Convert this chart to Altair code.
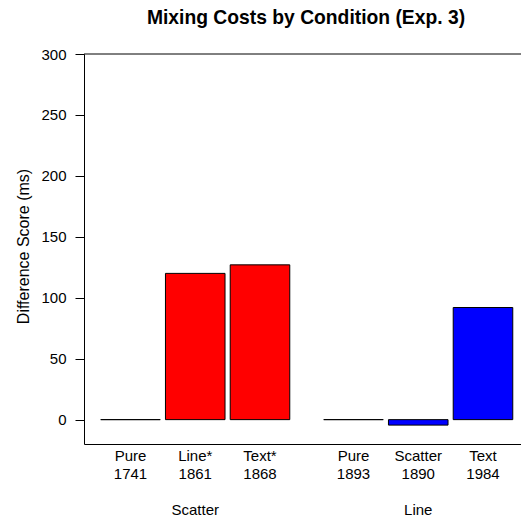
import altair as alt
import pandas as pd

# ---- data ----
groups = ["Scatter", "Scatter", "Scatter", "Line", "Line", "Line"]
conditions = ["Pure", "Line*", "Text*", "Pure", "Scatter", "Text"]
counts = ["1741", "1861", "1868", "1893", "1890", "1984"]
values = [0, 120, 127, 0, -4.5, 92]
group_order = ["Scatter", "Line"]
y_ticks = [0, 50, 100, 150, 200, 250, 300]

# ---- layout constants ----
GROUP_GAP = 0.444   # extra space between groups (in bar steps)
HALF = 0.46         # half bar width (in bar steps)
W, H = 437, 390
FONT = "Liberation Sans"

pos = [i + group_order.index(g) * GROUP_GAP for i, g in enumerate(groups)]
df = pd.DataFrame({
    "group": groups,
    "cond": conditions,
    "n": counts,
    "value": values,
    "pos": pos,
})
df["left"] = df["pos"] - HALF
df["right"] = df["pos"] + HALF
df["label"] = df["cond"] + "\n" + df["n"]

gdf = df.groupby("group", sort=False)["pos"].mean().reset_index()

xscale = alt.Scale(domain=[-0.718, 6.031], nice=False, zero=False)
yscale = alt.Scale(domain=[-20, 300], nice=False, zero=False)

base = alt.Chart(df)

bars = base.mark_bar(stroke="black", strokeWidth=1).encode(
    x=alt.X("left:Q", scale=xscale,
            axis=alt.Axis(title=None, labels=False, ticks=False, grid=False,
                          domain=True, domainColor="black", domainWidth=1)),
    x2="right:Q",
    y=alt.Y("value:Q", scale=yscale,
            axis=alt.Axis(title="Difference Score (ms)", values=y_ticks, grid=False,
                          domainColor="black", tickColor="black", tickSize=9,
                          labelPadding=9, labelFont=FONT, labelFontSize=15,
                          labelColor="black", titleFont=FONT, titleFontSize=16,
                          titleFontWeight="normal", titleColor="black",
                          titleAngle=-90, titleX=-56, titleY=192,
                          titleAlign="center", titleBaseline="alphabetic")),
    y2=alt.datum(0),
    color=alt.Color("group:N", scale=alt.Scale(domain=group_order,
                                               range=["#FF0000", "#0000FF"]),
                    legend=None),
)

top_line = alt.Chart(pd.DataFrame({"v": [300]})).mark_rule(
    color="black", strokeWidth=1).encode(y=alt.Y("v:Q", scale=yscale))

labels = base.mark_text(font=FONT, fontSize=15, color="black", lineBreak="\n",
                        lineHeight=18, baseline="alphabetic", align="center").encode(
    x=alt.X("pos:Q", scale=xscale),
    y=alt.value(H + 17),
    text="label:N",
)

glabels = alt.Chart(gdf).mark_text(font=FONT, fontSize=15, color="black",
                                   baseline="alphabetic", align="center").encode(
    x=alt.X("pos:Q", scale=xscale),
    y=alt.value(H + 71),
    text="group:N",
)

chart = alt.layer(bars, top_line, labels, glabels).properties(
    width=W, height=H,
    autosize=alt.AutoSizeParams(type="none"),
    padding={"left": 84, "top": 54, "right": 0, "bottom": 74},
    title=alt.TitleParams("Mixing Costs by Condition (Exp. 3)", font=FONT,
                          fontSize=19.3, fontWeight="bold", color="black",
                          anchor="middle", baseline="alphabetic", offset=4, dx=3.5),
).configure_view(stroke=None)

chart.save("out.html", embed_options={"renderer": "svg", "actions": False})
